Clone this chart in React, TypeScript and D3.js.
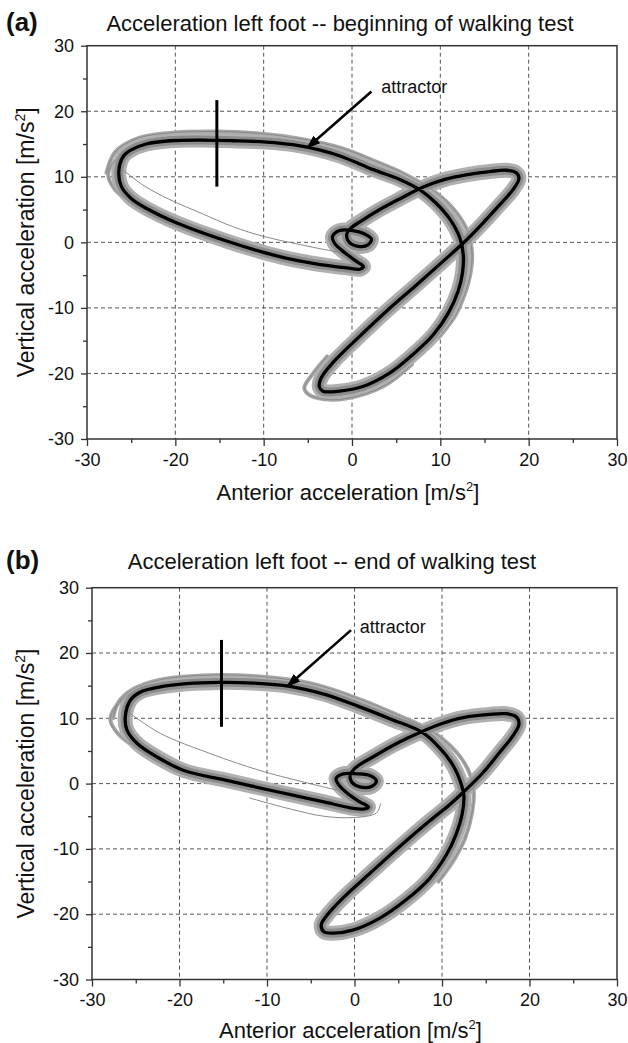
import React, { useEffect, useRef } from 'react';
import * as d3 from 'd3';

type Pt = [number, number];

// axis ticks
const majorTicks = [-30, -20, -10, 0, 10, 20, 30];
const minorTicks = [-25, -15, -5, 5, 15, 25];
const gridTicks = [-20, -10, 0, 10, 20];

const titleA = 'Acceleration left foot -- beginning of walking test';
const titleB = 'Acceleration left foot -- end of walking test';
const xTitle = 'Anterior acceleration [m/s';
const yTitle = 'Vertical acceleration [m/s';
const noteText = 'attractor';

// mean attractor, panel (a), one cycle
const attractorA: Pt[] = [
  [-26.4, 10.8], [-25.9, 13.1], [-25.0, 14.1], [-23.3, 15.0], [-20.6, 15.5], [-17.2, 15.6],
  [-13.5, 15.5], [-9.7, 15.3], [-6.7, 14.9], [-3.7, 14.1], [-1.2, 13.1], [2.4, 11.1],
  [5.4, 9.6], [7.7, 8.0], [9.5, 6.0], [11.1, 3.5], [12.2, 0.7], [12.6, -1.9], [12.5, -4.7],
  [12.0, -7.5], [10.9, -10.8], [9.2, -14.1], [6.9, -17.1], [4.3, -19.9], [1.2, -22.0],
  [-1.4, -22.7], [-3.3, -22.7], [-3.7, -22.0], [-3.5, -20.7], [-2.2, -18.4], [0.5, -14.8],
  [3.9, -10.5], [7.3, -6.5], [10.3, -2.9], [12.6, -0.1], [14.8, 2.9], [16.7, 5.7],
  [18.2, 8.0], [18.9, 9.7], [18.6, 10.6], [17.5, 11.0], [15.6, 10.8], [12.9, 10.3],
  [10.5, 9.6], [8.0, 8.4], [5.5, 6.7], [3.0, 4.9], [1.2, 3.4], [-0.1, 2.2], [-0.6, 1.2],
  [-0.3, 0.0], [0.7, -0.6], [1.8, -0.4], [2.2, 0.5], [1.4, 1.3], [0.1, 1.8], [-1.4, 1.8],
  [-2.2, 0.9], [-2.0, -0.1], [-0.8, -1.6], [0.5, -2.9], [1.3, -3.7], [0.9, -4.1],
  [-0.6, -3.9], [-4.4, -3.2], [-7.5, -2.4], [-10.1, -1.5], [-14.2, 0.2], [-19.9, 3.0],
  [-23.3, 5.2], [-25.0, 6.7], [-26.1, 8.5],
];

// edges of the band of single trials, panel (a)
const trialOuterA: Pt[] = [
  [-27.8, 10.6], [-26.8, 13.8], [-24.2, 15.9], [-20.6, 16.7], [-15.4, 16.9], [-10.5, 16.6],
  [-5.9, 15.8], [-1.0, 14.3], [2.4, 12.5], [6.0, 10.4], [9.5, 7.6], [11.8, 4.6], [13.2, 1.3],
  [13.6, -2.0], [13.3, -5.5], [12.6, -8.5], [11.6, -11.4], [9.8, -14.6],
];
const trialLeftA: Pt[] = [
  [-24.0, 15.2], [-26.6, 12.8], [-27.6, 10.4], [-26.8, 8.0], [-24.6, 5.8], [-21.0, 3.6],
];
const trialInnerA: Pt[] = [
  [-25.9, 11.0], [-23.5, 8.6], [-20.6, 6.5], [-17.0, 4.4], [-13.5, 2.4], [-10.0, 0.9],
  [-6.7, -0.1], [-3.5, -1.0], [-0.6, -1.7],
];
const trialBottomA: Pt[] = [
  [-2.8, -17.4], [-4.4, -20.0], [-5.4, -22.2], [-4.8, -23.3], [-2.2, -24.0], [1.0, -23.3],
  [4.0, -21.6], [6.8, -18.6],
];

// mean attractor, panel (b)
const attractorB: Pt[] = [
  [-26.2, 10.2], [-25.6, 12.8], [-24.5, 14.0], [-22.2, 14.8], [-19.2, 15.3], [-15.4, 15.5],
  [-11.6, 15.4], [-7.4, 14.9], [-3.5, 13.7], [0.3, 11.9], [4.1, 9.9], [7.8, 7.8], [9.7, 5.5],
  [11.3, 2.7], [12.2, -0.1], [12.5, -1.9], [12.3, -4.7], [11.6, -7.8], [10.5, -10.9],
  [8.6, -14.5], [5.9, -17.8], [2.9, -20.6], [-0.1, -22.4], [-2.4, -22.9], [-3.5, -22.7],
  [-3.8, -21.6], [-3.1, -20.1], [-1.3, -17.5], [1.8, -13.7], [5.2, -9.6], [8.6, -5.7],
  [10.9, -3.2], [12.6, -1.1], [14.7, 1.7], [16.6, 4.8], [18.1, 7.3], [18.8, 9.1],
  [18.5, 10.2], [17.3, 10.7], [15.4, 10.6], [12.4, 10.1], [10.0, 9.2], [7.6, 7.9],
  [4.6, 6.0], [2.0, 4.0], [0.1, 2.4], [-0.5, 1.2], [-0.3, 0.2], [0.6, -0.5], [2.0, -0.4],
  [2.5, 0.4], [1.8, 1.2], [0.3, 1.5], [-1.3, 1.5], [-2.1, 0.8], [-1.8, -0.2], [-0.7, -1.6],
  [0.6, -2.8], [1.6, -3.6], [1.0, -3.9], [-0.5, -3.7], [-3.5, -2.8], [-7.3, -1.7],
  [-11.0, -0.6], [-15.0, 0.6], [-19.5, 2.0], [-22.6, 4.1], [-24.8, 6.1], [-26.0, 8.2],
];

const trialOuterB: Pt[] = [
  [-27.6, 10.0], [-27.0, 12.4], [-25.4, 14.4], [-22.2, 15.9], [-16.5, 16.6], [-10.8, 16.4],
  [-5.2, 15.4], [-1.0, 13.7], [4.1, 11.0], [9.3, 7.6], [12.4, 3.5], [13.6, -0.6], [13.4, -4.7],
  [12.6, -8.5], [11.4, -11.6], [9.6, -15.0],
];
const trialLeftB: Pt[] = [
  [-23.8, 15.0], [-26.8, 12.6], [-27.9, 9.8], [-27.0, 7.6], [-24.8, 5.4], [-21.5, 3.4],
];
const trialInnerB: Pt[] = [
  [-25.6, 10.7], [-22.2, 7.7], [-16.5, 4.6], [-10.8, 2.0], [-6.0, 0.3], [-2.0, -1.0],
];
const trialLowB: Pt[] = [
  [-12.0, -2.2], [-7.3, -3.9], [-3.5, -5.0], [-0.1, -5.2], [2.5, -4.5], [3.0, -3.0],
];

// section marker and annotation arrow (data units)
const markerA: Pt[] = [[-15.3, 21.7], [-15.3, 8.5]];
const markerB: Pt[] = [[-15.2, 22.0], [-15.2, 8.7]];
const arrowA: Pt[] = [[2.2, 23.0], [-5.0, 14.5]];
const arrowB: Pt[] = [[-0.4, 23.5], [-7.6, 15.0]];
const noteA: Pt = [3.3, 22.8];
const noteB: Pt = [0.6, 23.0];

const FONT = '"Liberation Sans", Arial, Helvetica, sans-serif';

interface Panel {
  tag: string;
  title: string;
  left: number; right: number; top: number; bottom: number;
  titleX: number; titleY: number;
  xTitleY: number;
  mean: Pt[];
  edges: Pt[][];
  trials: Pt[][];
  marker: Pt[];
  arrow: Pt[];
  note: Pt;
}

const panels: Panel[] = [
  {
    tag: '(a)', title: titleA, left: 87, right: 617, top: 45.7, bottom: 439,
    titleX: 340, titleY: 31, xTitleY: 500,
    mean: attractorA, edges: [trialOuterA, trialLeftA, trialBottomA], trials: [trialInnerA],
    marker: markerA, arrow: arrowA, note: noteA,
  },
  {
    tag: '(b)', title: titleB, left: 92, right: 617, top: 587.7, bottom: 979.5,
    titleX: 332, titleY: 569, xTitleY: 1038,
    mean: attractorB, edges: [trialOuterB, trialLeftB], trials: [trialInnerB, trialLowB],
    marker: markerB, arrow: arrowB, note: noteB,
  },
];

function drawPanel(svg: d3.Selection<SVGSVGElement, unknown, null, undefined>, p: Panel) {
  const x = d3.scaleLinear().domain([-30, 30]).range([p.left, p.right]);
  const y = d3.scaleLinear().domain([-30, 30]).range([p.bottom, p.top]);
  const g = svg.append('g');

  // dashed grid
  g.append('g').selectAll('line').data(gridTicks).join('line')
    .attr('x1', d => x(d)).attr('x2', d => x(d))
    .attr('y1', p.top).attr('y2', p.bottom)
    .attr('stroke', '#555').attr('stroke-width', 1).attr('stroke-dasharray', '4,3');
  g.append('g').selectAll('line').data(gridTicks).join('line')
    .attr('y1', d => y(d)).attr('y2', d => y(d))
    .attr('x1', p.left).attr('x2', p.right)
    .attr('stroke', '#555').attr('stroke-width', 1).attr('stroke-dasharray', '4,3');

  const closed = d3.line<Pt>().x(d => x(d[0])).y(d => y(d[1]))
    .curve(d3.curveCatmullRomClosed.alpha(0.5));
  const open = d3.line<Pt>().x(d => x(d[0])).y(d => y(d[1]))
    .curve(d3.curveCatmullRom.alpha(0.5));

  // band of trials around the mean
  p.edges.forEach(t => {
    g.append('path').attr('d', open(t)).attr('fill', 'none')
      .attr('stroke', '#a6a6a6').attr('stroke-width', 4).attr('stroke-linecap', 'round');
  });
  g.append('path').attr('d', closed(p.mean)).attr('fill', 'none')
    .attr('stroke', '#b0b0b0').attr('stroke-width', 15).attr('stroke-linejoin', 'round');
  g.append('path').attr('d', closed(p.mean)).attr('fill', 'none')
    .attr('stroke', '#8c8c8c').attr('stroke-width', 9).attr('stroke-linejoin', 'round');
  p.edges.concat(p.trials).forEach(t => {
    g.append('path').attr('d', open(t)).attr('fill', 'none')
      .attr('stroke', '#8a8a8a').attr('stroke-width', 1);
  });

  // mean attractor
  g.append('path').attr('d', closed(p.mean)).attr('fill', 'none')
    .attr('stroke', '#000').attr('stroke-width', 3.3).attr('stroke-linejoin', 'round');

  // section marker
  g.append('line')
    .attr('x1', x(p.marker[0][0])).attr('y1', y(p.marker[0][1]))
    .attr('x2', x(p.marker[1][0])).attr('y2', y(p.marker[1][1]))
    .attr('stroke', '#000').attr('stroke-width', 3);

  // annotation arrow
  g.append('line')
    .attr('x1', x(p.arrow[0][0])).attr('y1', y(p.arrow[0][1]))
    .attr('x2', x(p.arrow[1][0])).attr('y2', y(p.arrow[1][1]))
    .attr('stroke', '#000').attr('stroke-width', 2.6)
    .attr('marker-end', 'url(#arrowhead)');
  g.append('text')
    .attr('x', x(p.note[0])).attr('y', y(p.note[1]))
    .attr('font-size', 18).attr('font-family', FONT).attr('fill', '#111')
    .text(noteText);

  // frame
  g.append('rect')
    .attr('x', p.left).attr('y', p.top)
    .attr('width', p.right - p.left).attr('height', p.bottom - p.top)
    .attr('fill', 'none').attr('stroke', '#333').attr('stroke-width', 1.5);

  // axes
  const xAxis = g.append('g').attr('transform', `translate(0,${p.bottom})`)
    .call(d3.axisBottom(x).tickValues(majorTicks).tickSize(7).tickPadding(7)
      .tickFormat(d => String(d)));
  g.append('g').attr('transform', `translate(0,${p.bottom})`)
    .call(d3.axisBottom(x).tickValues(minorTicks).tickSize(4).tickFormat(() => ''));
  const yAxis = g.append('g').attr('transform', `translate(${p.left},0)`)
    .call(d3.axisLeft(y).tickValues(majorTicks).tickSize(6).tickPadding(7)
      .tickFormat(d => String(d)));
  g.append('g').attr('transform', `translate(${p.left},0)`)
    .call(d3.axisLeft(y).tickValues(minorTicks).tickSize(4).tickFormat(() => ''));
  g.selectAll('.domain').remove();
  g.selectAll('.tick line').attr('stroke', '#333').attr('stroke-width', 1.3);
  [xAxis, yAxis].forEach(a => a.selectAll('text')
    .attr('font-size', 18).attr('font-family', FONT).attr('fill', '#111'));

  // titles
  svg.append('text').attr('x', 6).attr('y', p.titleY)
    .attr('font-size', 26).attr('font-weight', 'bold').attr('font-family', FONT)
    .attr('fill', '#111').text(p.tag);
  svg.append('text').attr('x', p.titleX).attr('y', p.titleY)
    .attr('text-anchor', 'middle').attr('font-size', 22).attr('font-family', FONT)
    .attr('fill', '#111').text(p.title);

  const xt = svg.append('text').attr('x', (p.left + p.right) / 2 - 4).attr('y', p.xTitleY)
    .attr('text-anchor', 'middle').attr('font-size', 22).attr('font-family', FONT)
    .attr('fill', '#111');
  xt.append('tspan').text(xTitle);
  xt.append('tspan').attr('font-size', 13).attr('dy', -9).text('2');
  xt.append('tspan').attr('dy', 9).text(']');

  const yc = (p.top + p.bottom) / 2;
  const yt = svg.append('text')
    .attr('transform', `translate(34,${yc}) rotate(-90)`)
    .attr('text-anchor', 'middle').attr('font-size', 23).attr('font-family', FONT)
    .attr('fill', '#111');
  yt.append('tspan').text(yTitle);
  yt.append('tspan').attr('font-size', 14).attr('dy', -9).text('2');
  yt.append('tspan').attr('dy', 9).text(']');
}

export default function App() {
  const svgRef = useRef<SVGSVGElement>(null);

  useEffect(() => {
    document.body.style.margin = '0';
    if (!svgRef.current) return;
    const svg = d3.select(svgRef.current);
    svg.selectAll('*').remove();

    svg.append('defs').append('marker')
      .attr('id', 'arrowhead')
      .attr('viewBox', '0 0 14 10')
      .attr('refX', 12).attr('refY', 5)
      .attr('markerWidth', 14).attr('markerHeight', 10)
      .attr('markerUnits', 'userSpaceOnUse')
      .attr('orient', 'auto')
      .append('path').attr('d', 'M0,0 L14,5 L0,10 Z').attr('fill', '#000');

    panels.forEach(p => drawPanel(svg, p));
  }, []);

  return <svg ref={svgRef} width={628} height={1043} style={{ display: 'block', background: '#fff' }} />;
}
